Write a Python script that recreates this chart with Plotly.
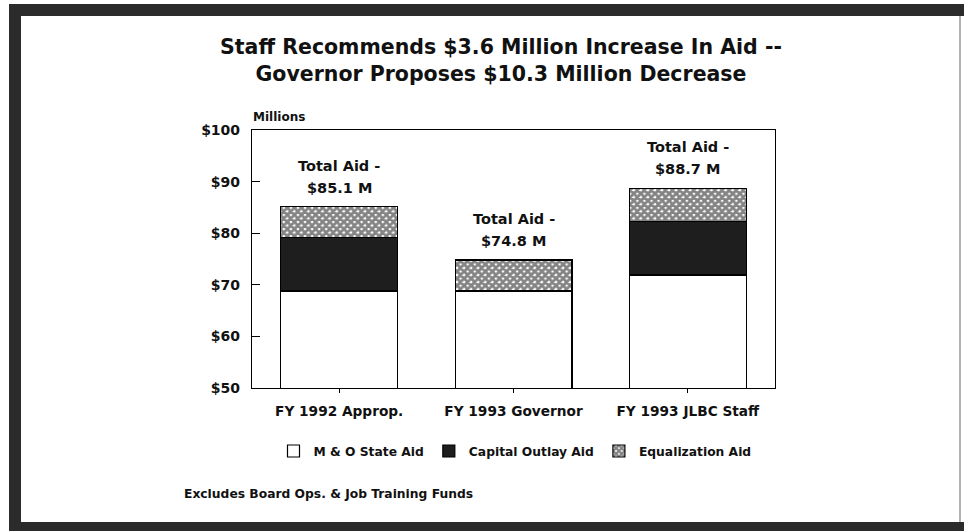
import plotly.graph_objects as go

# Aid components by budget scenario, $ millions
categories = ["FY 1992 Approp.", "FY 1993 Governor", "FY 1993 JLBC Staff"]
mo_state_aid = [68.8, 68.8, 71.9]
capital_outlay_aid = [10.4, 0.0, 10.3]
equalization_aid = [5.9, 6.0, 6.5]
total_labels = ["$85.1 M", "$74.8 M", "$88.7 M"]
y_tick_vals = [50, 60, 70, 80, 90, 100]
y_tick_text = ["$50", "$60", "$70", "$80", "$90", "$100"]

W, H = 964, 531
L, R, T, B = 252, 775, 130, 388  # plot-area edges in pixels


def px(x):
    return (x - L) / (R - L)


def py(y):
    return (B - y) / (B - T)


WIDE = "DejaVu Sans, Verdana, sans-serif"
INK = "#111111"

fig = go.Figure()
fig.add_bar(
    name="M & O State Aid", x=categories, y=mo_state_aid,
    marker=dict(color="white", line=dict(color="black", width=1.2)),
)
fig.add_bar(
    name="Capital Outlay Aid", x=categories, y=capital_outlay_aid,
    marker=dict(color="#1e1e1e", line=dict(color="black", width=1.2)),
)
fig.add_bar(
    name="Equalization Aid", x=categories, y=equalization_aid,
    marker=dict(color="white", line=dict(color="black", width=1.2),
                pattern=dict(shape="x", fgcolor="#0a0a0a", bgcolor="white",
                             size=5, solidity=0.8)),
)

totals = [a + b + c for a, b, c in zip(mo_state_aid, capital_outlay_aid, equalization_aid)]
annotations = []
for cat, tot, lab in zip(categories, totals, total_labels):
    annotations.append(dict(x=cat, y=tot, xref="x", yref="y", text="Total Aid -",
                            showarrow=False, yanchor="middle", yshift=41,
                            font=dict(family=WIDE, size=14.5, color=INK, weight="bold")))
    annotations.append(dict(x=cat, y=tot, xref="x", yref="y", text=lab,
                            showarrow=False, yanchor="middle", yshift=19,
                            font=dict(family=WIDE, size=14.5, color=INK, weight="bold")))

annotations.append(dict(x=px(251), y=py(117), xref="paper", yref="paper",
                        text="Millions", showarrow=False, xanchor="left",
                        yanchor="middle",
                        font=dict(family=WIDE, size=12, color=INK, weight="bold")))
annotations.append(dict(x=px(182), y=py(494), xref="paper", yref="paper",
                        text="Excludes Board Ops. & Job Training Funds", showarrow=False,
                        xanchor="left", yanchor="middle",
                        font=dict(family=WIDE, size=12.3, color=INK, weight="bold")))

frame = "#2b2b2b"
shapes = [
    dict(type="rect", xref="paper", yref="paper", x0=px(9), x1=px(21), y0=py(4), y1=py(531),
         fillcolor=frame, line=dict(width=0), layer="above"),
    dict(type="rect", xref="paper", yref="paper", x0=px(9), x1=px(964), y0=py(16), y1=py(4),
         fillcolor=frame, line=dict(width=0), layer="above"),
    dict(type="rect", xref="paper", yref="paper", x0=px(9), x1=px(964), y0=py(531), y1=py(522),
         fillcolor=frame, line=dict(width=0), layer="above"),
    dict(type="line", xref="paper", yref="paper", x0=px(960), x1=px(960), y0=py(16), y1=py(522),
         line=dict(color="#9a9a9a", width=1.5), layer="above"),
]

fig.update_layout(
    width=W, height=H, autosize=False,
    margin=dict(l=L, r=W - R, t=T, b=H - B),
    barmode="stack", bargap=0.33,
    paper_bgcolor="white", plot_bgcolor="white",
    title=dict(text="Staff Recommends $3.6 Million Increase In Aid --<br>"
                    "Governor Proposes $10.3 Million Decrease",
               x=501 / W, xanchor="center", y=1 - 54 / H, yanchor="middle",
               font=dict(family=WIDE, size=20.5, color=INK, weight="bold")),
    font=dict(family=WIDE, color=INK),
    showlegend=True,
    legend=dict(orientation="h", x=px(515), xanchor="center", y=py(451), yanchor="middle",
                font=dict(family=WIDE, size=12.3, color=INK, weight="bold"),
                itemwidth=30, traceorder="normal", bgcolor="rgba(0,0,0,0)"),
    annotations=annotations,
    shapes=shapes,
)

fig.update_xaxes(showline=True, linecolor="black", linewidth=1.2, mirror=True,
                 ticks="outside", ticklen=4, tickcolor="black", ticklabelstandoff=6,
                 tickfont=dict(family=WIDE, size=13.7, color=INK, weight="bold"),
                 showgrid=False)
fig.update_yaxes(range=[50, 100], tickvals=y_tick_vals, ticktext=y_tick_text,
                 showline=True, linecolor="black", linewidth=1.2, mirror=True,
                 ticks="inside", ticklen=8, tickcolor="black", ticklabelstandoff=8,
                 tickfont=dict(family=WIDE, size=14, color=INK, weight="bold"),
                 showgrid=False, zeroline=False)

fig.write_html("out.html")
